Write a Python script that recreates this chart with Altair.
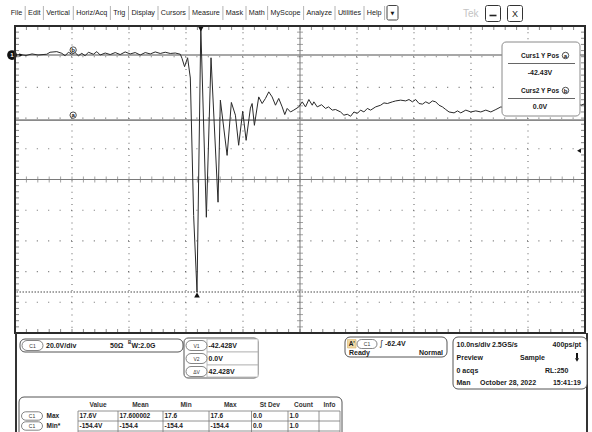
import altair as alt
import numpy as np
import pandas as pd

# ---------------- CH1 record (10 ns/div, 20 V/div) ----------------
time_ns = [0.0, 0.88, 1.93, 2.99, 4.04, 4.92, 5.57, 6.15, 7.33, 8.21, 8.79, 9.37, 9.96,
           10.54, 11.12, 11.72, 12.30, 12.88, 13.76, 14.36, 14.94, 15.82, 16.70, 17.58,
           18.45, 19.33, 20.21, 21.09, 21.97, 22.85, 23.73, 24.61, 25.48, 26.36, 27.24,
           28.12, 29.00, 29.30, 29.75, 30.28, 30.76, 31.34, 31.93, 32.60, 33.57, 34.39,
           35.62, 36.03, 37.21, 37.96, 38.67, 39.24, 39.95, 40.55, 41.30, 41.60, 42.00,
           42.76, 43.36, 43.94, 44.52, 45.11, 45.70, 46.27, 46.87, 47.33, 47.75, 48.33,
           48.91, 49.79, 50.39, 50.97, 51.55, 52.15, 52.43, 53.02, 53.78, 54.48, 55.01,
           55.66, 56.24, 57.12, 57.70, 58.30, 58.88, 59.46, 60.05, 60.63, 61.21, 61.81,
           62.39, 63.27, 64.15, 64.73, 65.33, 66.21, 66.79, 67.66, 68.54, 69.12, 69.72,
           70.30, 70.88, 71.48, 72.06, 72.64, 73.23, 73.81, 74.39, 74.99, 75.57, 76.15,
           77.03, 77.63, 78.21, 79.09, 79.97, 80.84, 81.72, 82.60, 83.48, 84.36, 85.24,
           86.12, 87.88, 90.51, 93.15, 95.78, 98.07, 99.30, 100.0]
volts = [0, 0.3, -0.3, 0.7, 0, 0.3, 0.5, 1.8, 2.2, 1.1, -0.5, 1.8, 0.5,
         1.6, -0.5, 1.1, -0.5, 1.8, 0.5, 2.2, 0, 1.3, 0.3, 1.6,
         0.3, 2.0, 0.7, 1.6, 0, 1.6, 0.7, 2.0, 1.0, 1.8, 1.0,
         1.3, 0.5, -2.2, -7.6, -1.8, -15.0, -104.6, -154.4, 17.6, -105.7, -1.8,
         -95.9, -29.4, -65.4, -30.9, -39.2, -58.8, -36.6, -55.6, -34.6, -31.6, -45.8,
         -27.3, -31.6, -28.3, -24.0, -27.3, -32.7, -28.3, -33.8, -38.8, -34.8, -37.1,
         -35.9, -33.8, -30.5, -33.8, -29.0, -32.7, -30.5, -33.8, -32.4, -34.8, -33.8,
         -35.9, -35.5, -37.1, -39.2, -38.6, -39.9, -37.1, -38.1, -35.9, -37.1, -34.8,
         -35.9, -33.8, -32.7, -31.2, -31.6, -30.5, -29.9, -29.4, -29.9, -29.0, -30.5,
         -29.0, -31.6, -32.0, -30.5, -31.6, -29.9, -30.5, -32.7, -33.8, -35.5, -37.1,
         -37.7, -36.4, -37.7, -35.9, -37.1, -36.4, -37.1, -35.9, -37.1, -35.5, -33.8,
         -34.6, -32.7, -31.4, -32.0, -30.7, -30.5, -32.7, -31.7]

# ---------------- cursors, trigger, readouts ----------------
cursor_names = ["a", "b"]
cursor_levels = [-42.43, 0.0]
cursor_titles = ["Curs1 Y Pos", "Curs2 Y Pos"]
cursor_readouts = ["-42.43V", "0.0V"]
trigger_level = -62.4

channel_labels = ["20.0V/div", "50\u03a9", "W:2.0G"]
delta_pills = ["V1", "V2", "\u0394V"]
delta_values = ["-42.428V", "0.0V", "42.428V"]
trigger_texts = ["-62.4V", "Ready", "Normal"]
timebase_rows = [["10.0ns/div", "2.5GS/s", "400ps/pt"],
                 ["Preview", "Sample", ""],
                 ["0 acqs", "RL:250", ""],
                 ["Man", "October 28, 2022", "15:41:19"]]

meas_headers = ["Value", "Mean", "Min", "Max", "St Dev", "Count", "Info"]
meas_names = ["Max", "Min*"]
meas_max_row = ["17.6V", "17.600002", "17.6", "17.6", "0.0", "1.0", ""]
meas_min_row = ["-154.4V", "-154.4", "-154.4", "-154.4", "0.0", "1.0", ""]

menu_items = ["File", "Edit", "Vertical", "Horiz/Acq", "Trig", "Display", "Cursors",
              "Measure", "Mask", "Math", "MyScope", "Analyze", "Utilities", "Help"]

# ---------------- screen geometry ----------------
W, H = 570, 307
PAD_L, PAD_T, PAD_R, PAD_B = 15, 26, 7, 99
V_PER_DIV = 20.0
V_TOP = 18.9
V_BOTTOM = V_TOP - 10 * V_PER_DIV
FONT = "Liberation Sans"
GRID = "#6f6f6f"
INK = "#1a1a1a"

xs = alt.Scale(domain=[0, 100], nice=False, zero=False)
ys = alt.Scale(domain=[V_BOTTOM, V_TOP], nice=False, zero=False)
one = pd.DataFrame({"k": [0]})


def X(f="t"):
    return alt.X(f"{f}:Q", scale=xs, axis=None)


def Y(f="v"):
    return alt.Y(f"{f}:Q", scale=ys, axis=None)


def PX():
    return alt.X("x:Q", scale=None, axis=None)


def PY():
    return alt.Y("y:Q", scale=None, axis=None)


def texts(rows, align="left", weight="bold", size=7, color=INK, font=FONT):
    df = pd.DataFrame(rows, columns=["label", "x", "y"])
    df["x"] = df["x"] - PAD_L
    df["y"] = df["y"] - PAD_T
    return alt.Chart(df).mark_text(
        align=align, baseline="middle", font=font, fontSize=size,
        fontWeight=weight, color=color
    ).encode(x=PX(), y=PY(), text="label:N")


def boxes(rows, radius=0, stroke="#555", fill="white", width=1.0):
    df = pd.DataFrame(rows, columns=["x", "x2", "y", "y2"])
    df[["x", "x2"]] = df[["x", "x2"]] - PAD_L
    df[["y", "y2"]] = df[["y", "y2"]] - PAD_T
    return alt.Chart(df).mark_rect(
        cornerRadius=radius, stroke=stroke, strokeWidth=width, fill=fill
    ).encode(x=PX(), x2="x2:Q", y=PY(), y2="y2:Q")


def segments(rows, color="#777", width=1.0):
    df = pd.DataFrame(rows, columns=["x", "x2", "y", "y2"])
    df[["x", "x2"]] = df[["x", "x2"]] - PAD_L
    df[["y", "y2"]] = df[["y", "y2"]] - PAD_T
    return alt.Chart(df).mark_rule(color=color, strokeWidth=width).encode(
        x=PX(), x2="x2:Q", y=PY(), y2="y2:Q")


layers = []

# ---------------- graticule ----------------
t_major = [10 * k for k in range(1, 10) if k != 5]
v_major = [V_TOP - V_PER_DIV * k for k in range(1, 10) if k != 5]
t_minor = np.arange(0, 100.001, 2.0)
v_minor = V_TOP - np.arange(0, 51) * V_PER_DIV / 5
t_mid, v_mid = 50.0, V_TOP - 5 * V_PER_DIV

layers.append(alt.Chart(pd.DataFrame({"v": v_major})).mark_rule(
    color=GRID, strokeWidth=1.1, strokeDash=[1, 10.4]).encode(y=Y()))
layers.append(alt.Chart(pd.DataFrame({"t": t_major})).mark_rule(
    color=GRID, strokeWidth=1.1, strokeDash=[1, 5.14]).encode(x=X()))
layers.append(alt.Chart(pd.DataFrame({"t": [t_mid]})).mark_rule(
    color="#7a7a7a", strokeWidth=1).encode(x=X()))
layers.append(alt.Chart(pd.DataFrame({"v": [v_mid]})).mark_rule(
    color="#7a7a7a", strokeWidth=1).encode(y=Y()))
layers.append(alt.Chart(pd.DataFrame({"v": v_minor, "t": t_mid})).mark_tick(
    orient="horizontal", size=6, thickness=1, color="#7a7a7a").encode(x=X(), y=Y()))
layers.append(alt.Chart(pd.DataFrame({"t": t_minor, "v": v_mid})).mark_tick(
    orient="vertical", size=6, thickness=1, color="#7a7a7a").encode(x=X(), y=Y()))
# edge ticks pointing inward
layers.append(alt.Chart(pd.DataFrame({"t": t_minor, "v": V_TOP})).mark_tick(
    orient="vertical", size=4, thickness=1, color="#555", yOffset=2).encode(x=X(), y=Y()))
layers.append(alt.Chart(pd.DataFrame({"t": t_minor, "v": V_BOTTOM})).mark_tick(
    orient="vertical", size=4, thickness=1, color="#555", yOffset=-2).encode(x=X(), y=Y()))
layers.append(alt.Chart(pd.DataFrame({"v": v_minor, "t": 0.0})).mark_tick(
    orient="horizontal", size=4, thickness=1, color="#555", xOffset=2).encode(x=X(), y=Y()))
layers.append(alt.Chart(pd.DataFrame({"v": v_minor, "t": 100.0})).mark_tick(
    orient="horizontal", size=4, thickness=1, color="#555", xOffset=-2).encode(x=X(), y=Y()))

# ---------------- measurement / cursor indicators ----------------
wave = pd.DataFrame({"t": time_ns, "v": volts})
i_max, i_min = int(np.argmax(volts)), int(np.argmin(volts))
peak = pd.DataFrame({"t": [time_ns[i_max]], "v": [volts[i_max]]})
trough = pd.DataFrame({"t": [time_ns[i_min]], "v": [volts[i_min]]})

layers.append(alt.Chart(trough).mark_rule(
    color="#333", strokeWidth=0.9, strokeDash=[1.5, 1.5]).encode(y=Y()))
curs = pd.DataFrame({"name": cursor_names, "v": cursor_levels, "t": 10.2})
layers.append(alt.Chart(curs).mark_rule(color="#8a8a8a", strokeWidth=1.6).encode(y=Y()))

# waveform
layers.append(alt.Chart(wave).mark_line(color="#2a2a2a", strokeWidth=1).encode(
    x=X(), y=Y(), order="t:Q"))

# min / max markers
layers.append(alt.Chart(trough).mark_point(
    shape="triangle-up", filled=True, color="#111", size=32, opacity=1, yOffset=3
).encode(x=X(), y=Y()))
layers.append(alt.Chart(peak).mark_point(
    shape="triangle-down", filled=True, color="#111", size=32, opacity=1, yOffset=1
).encode(x=X(), y=Y()))

# cursor tags
layers.append(alt.Chart(curs).mark_point(
    shape="circle", filled=True, fill="white", stroke="#222", strokeWidth=0.8,
    size=40, opacity=1, yOffset=-5).encode(x=X(), y=Y()))
layers.append(alt.Chart(curs).mark_text(
    font=FONT, fontSize=6, fontWeight="bold", color="#111", yOffset=-5,
    baseline="middle", align="center").encode(x=X(), y=Y(), text="name:N"))

# ground reference marker for CH1
gnd = pd.DataFrame({"t": [0.0], "v": [0.0], "label": ["1"]})
layers.append(alt.Chart(gnd).mark_point(
    shape="circle", filled=True, color="#111", size=95, opacity=1, xOffset=-3
).encode(x=X(), y=Y()))
layers.append(alt.Chart(gnd).mark_text(
    font=FONT, fontSize=6, fontWeight="bold", color="white", xOffset=-3,
    baseline="middle", align="center").encode(x=X(), y=Y(), text="label:N"))
layers.append(alt.Chart(gnd).mark_point(
    shape="triangle-right", filled=True, color="#111", size=14, opacity=1, xOffset=6
).encode(x=X(), y=Y()))

# trigger level marker
trig = pd.DataFrame({"t": [100.0], "v": [trigger_level]})
layers.append(alt.Chart(trig).mark_point(
    shape="triangle-left", filled=True, color="#111", size=20, opacity=1, xOffset=-6
).encode(x=X(), y=Y()))

# ---------------- cursor readout panel ----------------
layers.append(boxes([(502, 580, 42, 116)], radius=4, stroke="#8a8a8a"))
layers.append(segments([(508, 575, 63.5, 63.5), (508, 575, 98.5, 98.5)], color="#666"))
layers.append(texts([(cursor_titles[0], 559, 55.5), (cursor_titles[1], 559, 90.5)],
                    align="right", size=6.5))
layers.append(texts([(cursor_readouts[0], 540, 72.5), (cursor_readouts[1], 540, 107)],
                    align="center", size=7))
tag_pos = pd.DataFrame({"label": cursor_names, "x": [565.5 - PAD_L, 565.5 - PAD_L],
                        "y": [55.5 - PAD_T, 90.5 - PAD_T]})
layers.append(alt.Chart(tag_pos).mark_point(
    shape="circle", filled=True, fill="white", stroke="#222", strokeWidth=0.8,
    size=42, opacity=1).encode(x=PX(), y=PY()))
layers.append(alt.Chart(tag_pos).mark_text(
    font=FONT, fontSize=6, fontWeight="bold", color="#111", baseline="middle",
    align="center").encode(x=PX(), y=PY(), text="label:N"))

# graticule border
layers.append(alt.Chart(one).mark_rect(fillOpacity=0, stroke="#2b2b2b", strokeWidth=2).encode(
    x=alt.value(0), x2=alt.value(W), y=alt.value(0), y2=alt.value(H)))

# ---------------- menu bar ----------------
menu_x = [10.7, 28.1, 46.2, 76.2, 113.2, 131.4, 160.8, 191.9, 225.8, 248.7, 270.5,
          306.4, 337.9, 366.8]
menu_sep = [25.2, 43.4, 73.3, 110.4, 128.5, 158.0, 189.1, 222.9, 246.0, 267.6, 303.6,
            335.0, 364.0, 384.6]
layers.append(texts(list(zip(menu_items, menu_x, [13] * len(menu_items))),
                    weight="normal", size=7.2, color="#222"))
layers.append(segments([(s, s, 6, 20) for s in menu_sep], color="#a0a0a0", width=0.8))
layers.append(boxes([(387, 398, 5.5, 20)], radius=1.5, stroke="#444"))
layers.append(texts([("\u25bc", 392.5, 13)], align="center", weight="normal", size=5,
                    font="DejaVu Sans"))
layers.append(texts([("Tek", 463, 13.5)], weight="normal", size=10, color="#c4c4c4"))
layers.append(boxes([(485.5, 500.5, 5.5, 21.5), (507.5, 522.5, 5.5, 21.5)],
                    radius=2, stroke="#333"))
layers.append(segments([(489.5, 496.5, 15.5, 15.5)], color="#222", width=1.6))
layers.append(texts([("X", 515, 13.5)], align="center", weight="normal", size=9))

# ---------------- lower status area ----------------
layers.append(segments([(16, 16, 333, 432), (587, 587, 333, 432)], color="#333", width=2))

# channel settings
layers.append(boxes([(20, 183, 339, 352)], radius=5, stroke="#555"))
pill_rows = [(22, 43, 340.5, 350.5), (186, 207, 340.5, 350.5), (186, 207, 353.5, 363.5),
             (186, 207, 366.5, 376.5), (357, 377, 339.5, 348.5),
             (21.5, 42.5, 411.8, 420.2), (21.5, 42.5, 421.8, 430.2)]
layers.append(texts([(channel_labels[0], 46, 345.5), (channel_labels[1], 110, 345.5),
                     (channel_labels[2], 131.5, 346)]))
layers.append(texts([("B", 128, 343.2)], size=4.5))

# cursor deltas
layers.append(boxes([(184, 258, 338, 378)], radius=4, stroke="#555"))
layers.append(boxes([(207, 258, 339, 352), (207, 258, 352, 365), (207, 258, 365, 377)],
                    radius=0, stroke="#b0b0b0", width=0.8))
layers.append(texts([(delta_values[0], 208.5, 345.5), (delta_values[1], 208.5, 358.5),
                     (delta_values[2], 208.5, 371.5)]))

# trigger
layers.append(boxes([(345, 447, 337, 357)], radius=5, stroke="#555"))
layers.append(boxes([(347.5, 356, 339.5, 348)], radius=0, stroke="#d9b46a",
                    fill="#efd9a6", width=0.6))
layers.append(texts([("A'", 351.8, 344)], align="center", size=6.5))
layers.append(texts([("\u222b", 381, 344)], align="center", weight="normal", size=8,
                    font="DejaVu Sans"))
layers.append(texts([(trigger_texts[0], 385, 344), (trigger_texts[1], 349, 352.5)]))
layers.append(texts([(trigger_texts[2], 443, 352.5)], align="right"))

# timebase / acquisition
layers.append(boxes([(453, 587, 337, 389)], radius=5, stroke="#555"))
tb_y = [345, 358, 370.5, 383]
layers.append(texts([(timebase_rows[0][0], 456.5, tb_y[0]), (timebase_rows[0][1], 492, tb_y[0]),
                     (timebase_rows[1][0], 456.5, tb_y[1]), (timebase_rows[1][1], 520, tb_y[1]),
                     (timebase_rows[2][0], 456.5, tb_y[2]), (timebase_rows[2][1], 545, tb_y[2]),
                     (timebase_rows[3][0], 456.5, tb_y[3]), (timebase_rows[3][1], 480, tb_y[3])]))
layers.append(texts([(timebase_rows[0][2], 581, tb_y[0]), (timebase_rows[3][2], 581, tb_y[3])],
                    align="right"))
layers.append(segments([(577, 577, 353, 358.5)], color="#111", width=2))
arrow = pd.DataFrame({"x": [577 - PAD_L], "y": [360 - PAD_T]})
layers.append(alt.Chart(arrow).mark_point(
    shape="triangle-down", filled=True, color="#111", size=16, opacity=1
).encode(x=PX(), y=PY()))

# measurement table
layers.append(boxes([(19, 342, 397, 445)], radius=5, stroke="#555"))
col_edges = [78, 118, 163, 209, 251.5, 288, 319, 340]
row_edges = [411, 421, 431]
layers.append(segments([(c, c, 411, 432) for c in col_edges] +
                       [(78, 340, r, r) for r in row_edges], color="#777", width=0.8))
centers = [(a + b) / 2 for a, b in zip(col_edges[:-1], col_edges[1:])]
layers.append(texts(list(zip(meas_headers, centers, [405] * 7)), align="center", size=6.5,
                    color="#333"))
cell_rows = []
for vals, yy in ((meas_max_row, 416), (meas_min_row, 426)):
    for v, c in zip(vals, col_edges[:-1]):
        if v:
            cell_rows.append((v, c + 1.5, yy))
layers.append(texts(cell_rows, size=6.5))
layers.append(texts([(meas_names[0], 46.5, 416), (meas_names[1], 46.5, 426)], size=6.5))

# pill-shaped source badges
layers.append(boxes(pill_rows, radius=5, stroke="#666", width=0.8))
layers.append(texts([("C1", 32.5, 345.5), (delta_pills[0], 196.5, 345.5),
                     (delta_pills[1], 196.5, 358.5), (delta_pills[2], 196.5, 371.5),
                     ("C1", 367, 344), ("C1", 32, 416), ("C1", 32, 426)],
                    align="center", weight="normal", size=5, color="#333"))

chart = alt.layer(*layers).properties(
    width=W, height=H,
    padding={"left": PAD_L, "top": PAD_T, "right": PAD_R, "bottom": PAD_B},
    autosize=alt.AutoSizeParams(type="none"),
    background="white",
).configure_view(stroke=None)

chart.save("out.html", embed_options={"renderer": "svg", "actions": False})
